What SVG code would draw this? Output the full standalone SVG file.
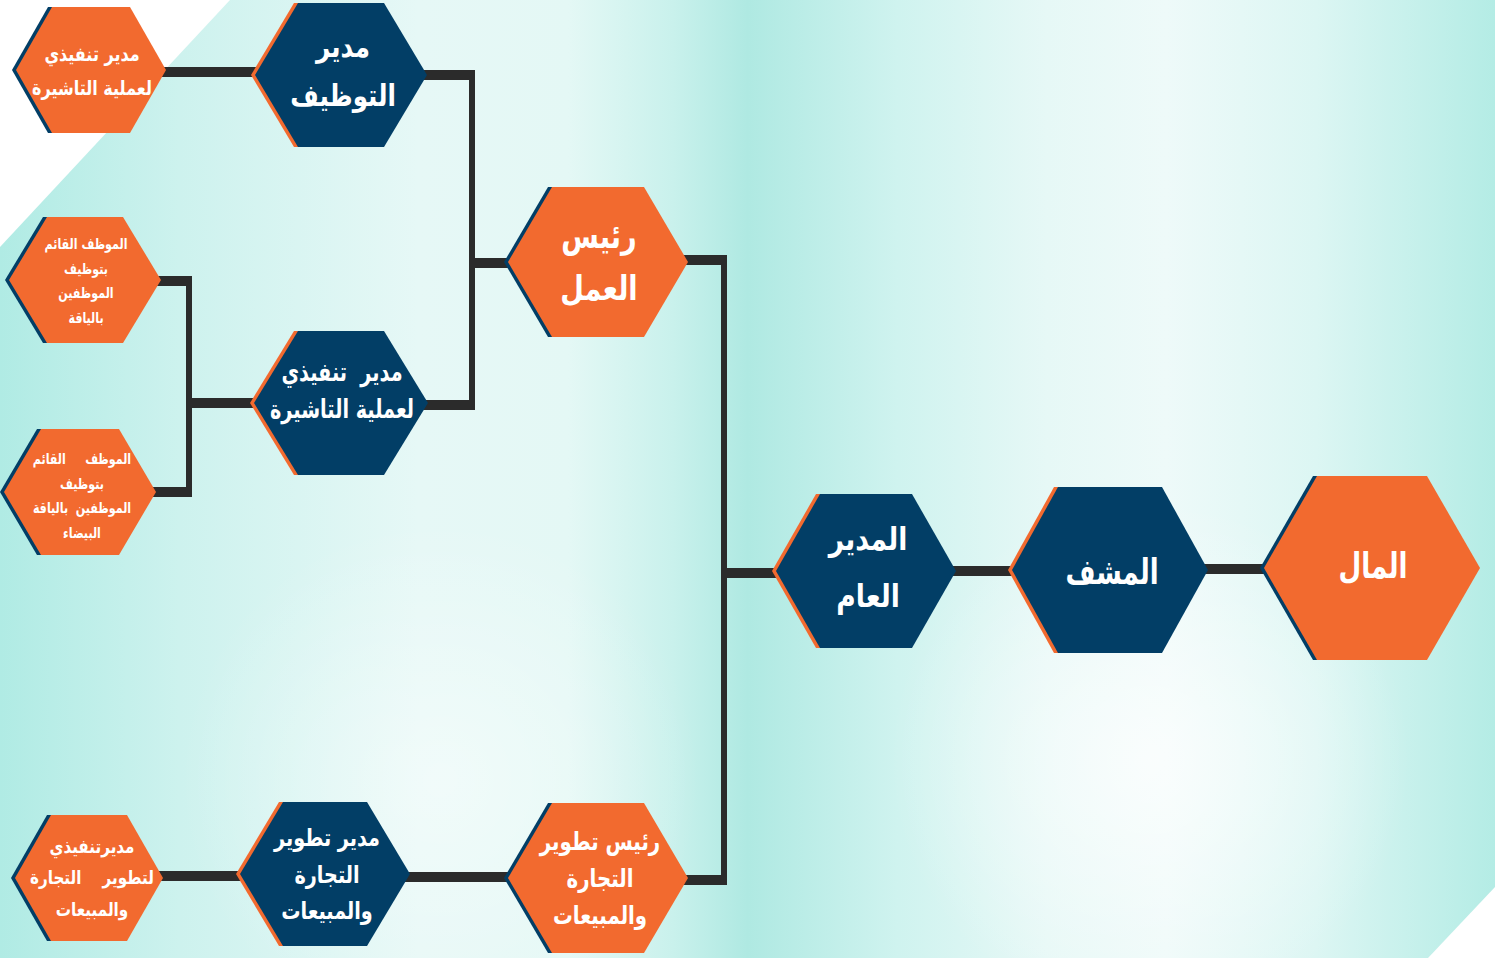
<svg xmlns="http://www.w3.org/2000/svg" width="1495" height="958" viewBox="0 0 1495 958">
<defs>
<linearGradient id="bg" x1="0" y1="0" x2="1495" y2="0" gradientUnits="userSpaceOnUse">
<stop offset="0" stop-color="#b0ebe4"/>
<stop offset="0.12" stop-color="#cdf2ee"/>
<stop offset="0.28" stop-color="#e6f8f6"/>
<stop offset="0.38" stop-color="#e4f8f5"/>
<stop offset="0.45" stop-color="#c9f1ec"/>
<stop offset="0.5" stop-color="#afe9e2"/>
<stop offset="0.6" stop-color="#cff3ef"/>
<stop offset="0.7" stop-color="#e6f8f6"/>
<stop offset="0.78" stop-color="#eefaf9"/>
<stop offset="0.88" stop-color="#dcf6f3"/>
<stop offset="1" stop-color="#b4ece5"/>
</linearGradient>
<radialGradient id="glow1" cx="1150" cy="760" r="260" gradientUnits="userSpaceOnUse">
<stop offset="0" stop-color="#ffffff" stop-opacity="0.7"/>
<stop offset="1" stop-color="#ffffff" stop-opacity="0"/>
</radialGradient>
<radialGradient id="glow2" cx="440" cy="780" r="260" gradientUnits="userSpaceOnUse">
<stop offset="0" stop-color="#ffffff" stop-opacity="0.45"/>
<stop offset="1" stop-color="#ffffff" stop-opacity="0"/>
</radialGradient>
<style>
.o{fill:#f26a2f}
.b{fill:#023e66}
.so{fill:#f26a2f}
.sb{fill:#023e66}
.t{fill:#ffffff;font-family:"DejaVu Sans","Noto Sans",sans-serif;font-weight:bold;text-anchor:middle;dominant-baseline:central;white-space:pre}
.h{stroke:#2b2b2b;stroke-width:10;fill:none}
.v{stroke:#2b2b2b;stroke-width:6;fill:none}
</style>
</defs>
<rect x="0" y="0" width="1495" height="958" fill="url(#bg)"/>
<rect x="0" y="0" width="1495" height="958" fill="url(#glow1)"/>
<rect x="0" y="0" width="1495" height="958" fill="url(#glow2)"/>
<polygon points="0,0 230,0 0,247" fill="#ffffff"/>
<polygon points="1495,887 1495,958 1428,958" fill="#ffffff"/>

<g id="connectors">
<line class="h" x1="160" y1="72" x2="262" y2="72"/>
<line class="h" x1="420" y1="75" x2="475" y2="75"/>
<line class="v" x1="472" y1="70" x2="472" y2="410"/>
<line class="h" x1="420" y1="405" x2="475" y2="405"/>
<line class="h" x1="472" y1="263" x2="515" y2="263"/>
<line class="h" x1="680" y1="260" x2="727" y2="260"/>
<line class="v" x1="724" y1="255" x2="724" y2="885"/>
<line class="h" x1="680" y1="880" x2="727" y2="880"/>
<line class="h" x1="724" y1="573" x2="782" y2="573"/>
<line class="h" x1="950" y1="571" x2="1018" y2="571"/>
<line class="h" x1="1200" y1="569" x2="1270" y2="569"/>
<line class="h" x1="155" y1="281" x2="192" y2="281"/>
<line class="v" x1="189" y1="276" x2="189" y2="497"/>
<line class="h" x1="150" y1="492" x2="192" y2="492"/>
<line class="h" x1="189" y1="403" x2="260" y2="403"/>
<line class="h" x1="158" y1="876" x2="246" y2="876"/>
<line class="h" x1="404" y1="877" x2="514" y2="877"/>
</g>

<g id="n1">
<polygon class="sb" points="48,7 126,7 162,70 126,133 48,133 12,70"/>
<polygon class="o" points="52,7 130,7 166,70 130,133 52,133 16,70"/>
<text class="t" font-size="20" transform="translate(92 0) scale(0.8 1)"><tspan x="0" y="53">مدير تنفيذي</tspan><tspan x="0" y="87">لعملية التاشيرة</tspan></text>
</g>
<g id="n2">
<polygon class="so" points="294,3 380,3 423,75 380,147 294,147 251,75"/>
<polygon class="b" points="298,3 384,3 427,75 384,147 298,147 255,75"/>
<text class="t" font-size="30" transform="translate(343 0) scale(0.82 1)"><tspan x="0" y="46">مدير</tspan><tspan x="0" y="95">التوظيف</tspan></text>
</g>
<g id="n3">
<polygon class="sb" points="548,187 640,187 684,262 640,337 548,337 504,262"/>
<polygon class="o" points="552,187 644,187 688,262 644,337 552,337 508,262"/>
<text class="t" font-size="34" transform="translate(599 0) scale(0.8 1)"><tspan x="0" y="236">رئيس</tspan><tspan x="0" y="288">العمل</tspan></text>
</g>
<g id="n4">
<polygon class="so" points="294,331 380,331 424,403 380,475 294,475 250,403"/>
<polygon class="b" points="298,331 384,331 428,403 384,475 298,475 254,403"/>
<text class="t" font-size="26" transform="translate(342 0) scale(0.74 1)"><tspan x="0" y="372">مدير  تنفيذي</tspan><tspan x="0" y="409">لعملية التاشيرة</tspan></text>
</g>
<g id="n5">
<polygon class="sb" points="43,217 119,217 157,280 119,343 43,343 5,280"/>
<polygon class="o" points="47,217 123,217 161,280 123,343 47,343 9,280"/>
<text class="t" font-size="15" transform="translate(86 0) scale(0.74 1)"><tspan x="0" y="243">الموظف القائم</tspan><tspan x="0" y="268">بتوظيف</tspan><tspan x="0" y="292">الموظفين</tspan><tspan x="0" y="317">بالياقة</tspan></text>
</g>
<g id="n6">
<polygon class="sb" points="37,429 115,429 152,492 115,555 37,555 0,492"/>
<polygon class="o" points="41,429 119,429 156,492 119,555 41,555 4,492"/>
<text class="t" font-size="15" transform="translate(82 0) scale(0.74 1)"><tspan x="0" y="458">الموظف     القائم</tspan><tspan x="0" y="483">بتوظيف</tspan><tspan x="0" y="507">الموظفين  بالياقة</tspan><tspan x="0" y="532">البيضاء</tspan></text>
</g>
<g id="n7">
<polygon class="sb" points="47,815 123,815 159,878 123,941 47,941 11,878"/>
<polygon class="o" points="51,815 127,815 163,878 127,941 51,941 15,878"/>
<text class="t" font-size="19" transform="translate(92 0) scale(0.8 1)"><tspan x="0" y="846">مديرتنفيذي</tspan><tspan x="0" y="877">لتطوير    التجارة</tspan><tspan x="0" y="909">والمبيعات</tspan></text>
</g>
<g id="n8">
<polygon class="so" points="279,802 363,802 406,874 363,946 279,946 236,874"/>
<polygon class="b" points="283,802 367,802 410,874 367,946 283,946 240,874"/>
<text class="t" font-size="24" transform="translate(327 0) scale(0.8 1)"><tspan x="0" y="837">مدير تطوير</tspan><tspan x="0" y="874">التجارة</tspan><tspan x="0" y="910">والمبيعات</tspan></text>
</g>
<g id="n9">
<polygon class="sb" points="548,803 640,803 684,878 640,953 548,953 504,878"/>
<polygon class="o" points="552,803 644,803 688,878 644,953 552,953 508,878"/>
<text class="t" font-size="25" transform="translate(600 0) scale(0.79 1)"><tspan x="0" y="841">رئيس تطوير</tspan><tspan x="0" y="878">التجارة</tspan><tspan x="0" y="915">والمبيعات</tspan></text>
</g>
<g id="n10">
<polygon class="so" points="816,494 908,494 952,571 908,648 816,648 772,571"/>
<polygon class="b" points="820,494 912,494 956,571 912,648 820,648 776,571"/>
<text class="t" font-size="32" transform="translate(868 0) scale(0.83 1)"><tspan x="0" y="539">المدير</tspan><tspan x="0" y="596">العام</tspan></text>
</g>
<g id="n11">
<polygon class="so" points="1054,487 1158,487 1204,570 1158,653 1054,653 1008,570"/>
<polygon class="b" points="1058,487 1162,487 1208,570 1162,653 1058,653 1012,570"/>
<text class="t" font-size="35" transform="translate(1112 0) scale(0.74 1)" x="0" y="571">المشف</text>
</g>
<g id="n12">
<polygon class="sb" points="1313,476 1423,476 1476,568 1423,660 1313,660 1260,568"/>
<polygon class="o" points="1317,476 1427,476 1480,568 1427,660 1317,660 1264,568"/>
<text class="t" font-size="35" transform="translate(1373 0) scale(0.75 1)" x="0" y="566">المال</text>
</g>
</svg>
